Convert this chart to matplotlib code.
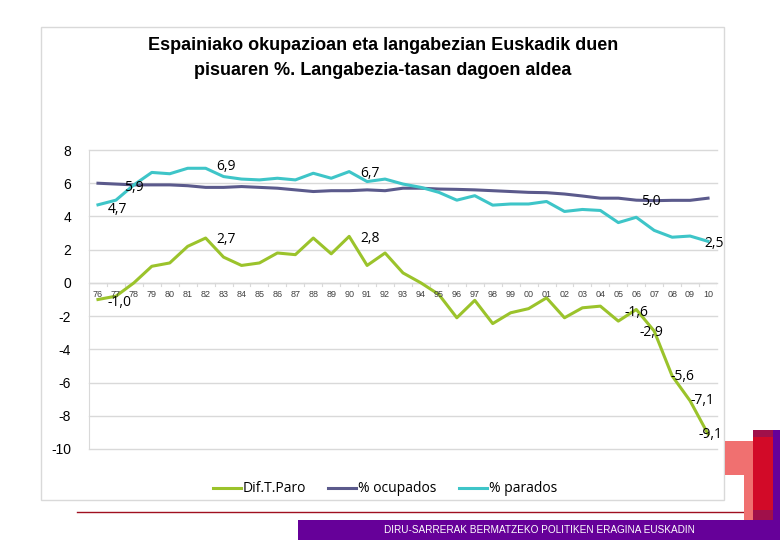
import matplotlib
matplotlib.use("Agg")
import matplotlib.pyplot as plt
from matplotlib.patches import Rectangle
from matplotlib.lines import Line2D

years = ["76","77","78","79","80","81","82","83","84","85","86","87","88","89","90",
         "91","92","93","94","95","96","97","98","99","00","01","02","03","04","05",
         "06","07","08","09","10"]
dif_paro = [-1.0,-0.8,0.0,1.0,1.2,2.2,2.7,1.55,1.05,1.2,1.8,1.7,2.7,1.75,2.8,
            1.05,1.8,0.6,0.0,-0.7,-2.1,-1.05,-2.45,-1.8,-1.55,-0.9,-2.1,-1.5,-1.4,-2.3,
            -1.6,-2.9,-5.6,-7.1,-9.1]
ocupados = [6.0,5.95,5.9,5.9,5.9,5.85,5.75,5.75,5.8,5.75,5.7,5.6,5.5,5.55,5.55,
            5.6,5.55,5.7,5.7,5.65,5.63,5.6,5.55,5.5,5.45,5.43,5.35,5.23,5.1,5.1,
            4.98,4.95,4.97,4.97,5.1]
parados = [4.7,4.98,5.9,6.65,6.57,6.9,6.9,6.4,6.25,6.2,6.3,6.2,6.6,6.3,6.7,
           6.1,6.25,5.95,5.75,5.45,4.98,5.25,4.68,4.75,4.75,4.9,4.3,4.42,4.36,3.63,
           3.95,3.16,2.75,2.82,2.5]
yticks = [8, 6, 4, 2, 0, -2, -4, -6, -8, -10]

title = "Espainiako okupazioan eta langabezian Euskadik duen\npisuaren %. Langabezia-tasan dagoen aldea"
series_names = ["Dif.T.Paro", "% ocupados", "% parados"]
c_green = "#9BC32B"
c_dark = "#5B5A8C"
c_teal = "#3EC5C8"

W, H = 780, 540
fig = plt.figure(figsize=(7.8, 5.4), dpi=100)
fig.patch.set_facecolor("white")

def px(x0, y0, x1, y1):
    return (x0 / W, 1 - y1 / H, (x1 - x0) / W, (y1 - y0) / H)

# chart frame
fx, fy, fw, fh = px(41, 27, 724, 500)
fig.patches.append(Rectangle((fx, fy), fw, fh, transform=fig.transFigure,
                             fill=False, edgecolor="#D9D9D9", lw=1.0, zorder=0))

ax = fig.add_axes(px(89, 150, 717, 449))
x = list(range(len(years)))
ax.plot(x, dif_paro, color=c_green, lw=2.2, zorder=3)
ax.plot(x, ocupados, color=c_dark, lw=2.2, zorder=3)
ax.plot(x, parados, color=c_teal, lw=2.2, zorder=3)
ax.set_xlim(-0.5, len(years) - 0.5)
ax.set_ylim(-10, 8)
ax.set_yticks(yticks)
ax.set_yticklabels([str(v) for v in yticks], fontsize=10, family="Liberation Sans")
ax.tick_params(axis="y", length=0, pad=13)
ax.set_xticks([])
for v in yticks:
    ax.axhline(v, color="#D9D9D9", lw=1.0, zorder=1, clip_on=False)
for s in ["top", "right", "bottom"]:
    ax.spines[s].set_visible(False)
ax.spines["left"].set_color("#D9D9D9")
# category axis at zero
ax.axhline(0, color="#D9D9D9", lw=1.0, zorder=2)
for i in range(len(years) + 1):
    ax.plot([i - 0.5, i - 0.5], [0, -0.2], color="#D9D9D9", lw=0.8, zorder=2)
for i, yl in enumerate(years):
    ax.text(i, -0.45, yl, ha="center", va="top", fontsize=6.5,
            family="Liberation Sans", color="#404040", zorder=4)

# data labels
lab_kw = dict(fontsize=10, family="Open Sans", color="#000000", zorder=5)
def lab(i, series, dx, dy, ha="left"):
    v = series[i]
    ax.text(i + dx, v + dy, f"{v:.1f}".replace(".", ","), ha=ha, va="center", **lab_kw)

lab(0, parados, 0.55, -0.3)
lab(2, parados, 0.0, -0.15, ha="center")
lab(6, parados, 0.6, 0.1)
lab(14, parados, 0.6, -0.1)
lab(31, ocupados, -0.2, -0.05, ha="center")
lab(34, parados, -0.2, -0.1)
lab(0, dif_paro, 0.55, -0.2)
lab(6, dif_paro, 0.6, -0.1)
lab(14, dif_paro, 0.6, -0.1)
lab(30, dif_paro, 0.0, -0.2, ha="center")
lab(31, dif_paro, -0.15, -0.1, ha="center")
lab(32, dif_paro, -0.1, -0.05)
lab(33, dif_paro, 0.0, 0.0)
lab(34, dif_paro, 0.15, -0.05, ha="center")

fig.text(383 / W, 1 - 58 / H, title, ha="center", va="center", fontsize=13,
         fontweight="bold", family="Liberation Sans", linespacing=1.65)

# legend
handles = [Line2D([], [], color=c, lw=2.2) for c in (c_green, c_dark, c_teal)]
fig.legend(handles, series_names, loc="center", bbox_to_anchor=(385 / W, 1 - 489 / H),
           ncol=3, frameon=False, handlelength=2.0, handletextpad=0.15,
           columnspacing=1.6, prop={"family": "Open Sans", "size": 10})

# decorations
def rect(x0, y0, x1, y1, color, z=1):
    r = Rectangle(px(x0, y0, x1, y1)[:2], (x1 - x0) / W, (y1 - y0) / H,
                  transform=fig.transFigure, facecolor=color, edgecolor="none", zorder=z)
    fig.patches.append(r)

fig.add_artist(Line2D([77 / W, 753 / W], [1 - 512 / H, 1 - 512 / H],
                      transform=fig.transFigure, color="#A01020", lw=1.0))
rect(725, 441, 753, 475, "#F07070", 2)
rect(744, 463, 753, 520, "#F07070", 2)
rect(753, 430, 773, 520, "#A0104A", 2)
rect(753, 437, 773, 510, "#D20A28", 3)
rect(773, 430, 780, 540, "#660099", 3)
rect(298, 520, 780, 540, "#660099", 3)
fig.text(539 / W, 1 - 530 / H, "DIRU-SARRERAK BERMATZEKO POLITIKEN ERAGINA EUSKADIN",
         ha="center", va="center", fontsize=7.2, color="white", family="Liberation Sans",
         zorder=5)

fig.savefig("out.png", dpi=100)
